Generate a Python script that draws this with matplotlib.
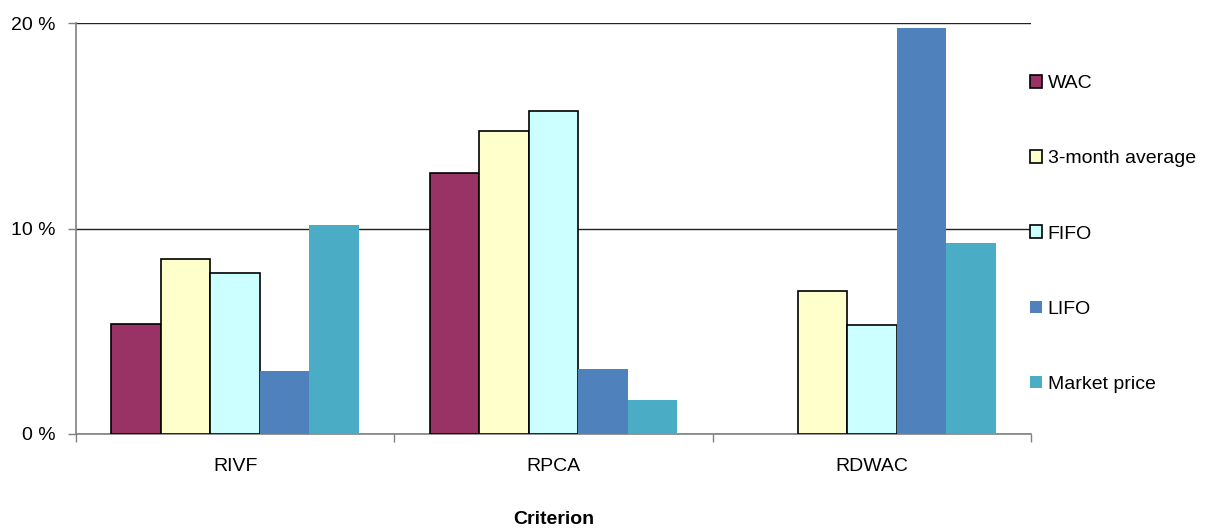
import matplotlib
matplotlib.use("Agg")
import matplotlib.pyplot as plt
import numpy as np

plt.rcParams['font.family'] = ['Liberation Sans', 'DejaVu Sans']

categories = ["RIVF", "RPCA", "RDWAC"]
series_names = ["WAC", "3-month average", "FIFO", "LIFO", "Market price"]
wac = [5.35, 12.7, 0.0]
three_month = [8.5, 14.74, 6.96]
fifo = [7.83, 15.72, 5.3]
lifo = [3.07, 3.16, 19.76]
market = [10.17, 1.65, 9.29]
yticks = [0, 10, 20]
ytick_labels = ["0 %", "10 %", "20 %"]

series_values = [wac, three_month, fifo, lifo, market]
colors = ["#993366", "#FFFFCC", "#CCFFFF", "#4F81BD", "#4BACC6"]
edges = ["black", "black", "black", "none", "none"]

fig = plt.figure(figsize=(12.05, 5.30), dpi=100)
ax = fig.add_axes([76/1205, 1 - 434/530, (1031 - 76)/1205, (434 - 23)/530])

x = np.arange(len(categories))
bw = 0.1555
handles = []
for i, (name, vals) in enumerate(zip(series_names, series_values)):
    offs = (i - 2) * bw
    b = ax.bar(x + offs, vals, width=bw, color=colors[i],
               edgecolor=edges[i], linewidth=1.2 if edges[i] != "none" else 0,
               label=name, zorder=3)
    # empty values leave no visible mark
    for rect, v in zip(b.patches, vals):
        if v == 0:
            rect.set_visible(False)
    handles.append(b)

ax.set_xlim(-0.5, len(categories) - 0.5)
ax.set_ylim(0, 20)
ax.set_yticks(yticks)
ax.set_yticklabels(ytick_labels, fontsize=14)
ax.yaxis.grid(True, color="#222222", linewidth=1.0, zorder=0)
ax.set_axisbelow(True)

ax.set_xticks(x)
ax.set_xticklabels(categories, fontsize=14)
ax.set_xticks(np.arange(len(categories) + 1) - 0.5, minor=True)
ax.tick_params(axis='x', which='major', length=0, pad=17)
ax.tick_params(axis='x', which='minor', length=6, width=1, color="#808080", direction='out')
ax.tick_params(axis='y', length=6, width=1, color="#808080", pad=9)

for s in ["top", "right"]:
    ax.spines[s].set_visible(False)
ax.spines["left"].set_color("#808080")
ax.spines["bottom"].set_color("#808080")
ax.spines["left"].set_linewidth(1.2)
ax.spines["bottom"].set_linewidth(1.2)

ax.set_xlabel("Criterion", fontsize=14, fontweight="bold")
ax.xaxis.set_label_coords(0.5, -(519 - 434) / (434 - 23))
ax.xaxis.label.set_verticalalignment("center")

leg = fig.legend(handles=handles, labels=series_names, loc="center left",
                 bbox_to_anchor=(1022/1205, 1 - 234/530), frameon=False,
                 fontsize=14, handlelength=0.62, handleheight=0.62,
                 handletextpad=0.3, labelspacing=2.98, borderaxespad=0)
for h in leg.legend_handles:
    h.set_linewidth(1.2)

fig.savefig("out.png", dpi=100)
